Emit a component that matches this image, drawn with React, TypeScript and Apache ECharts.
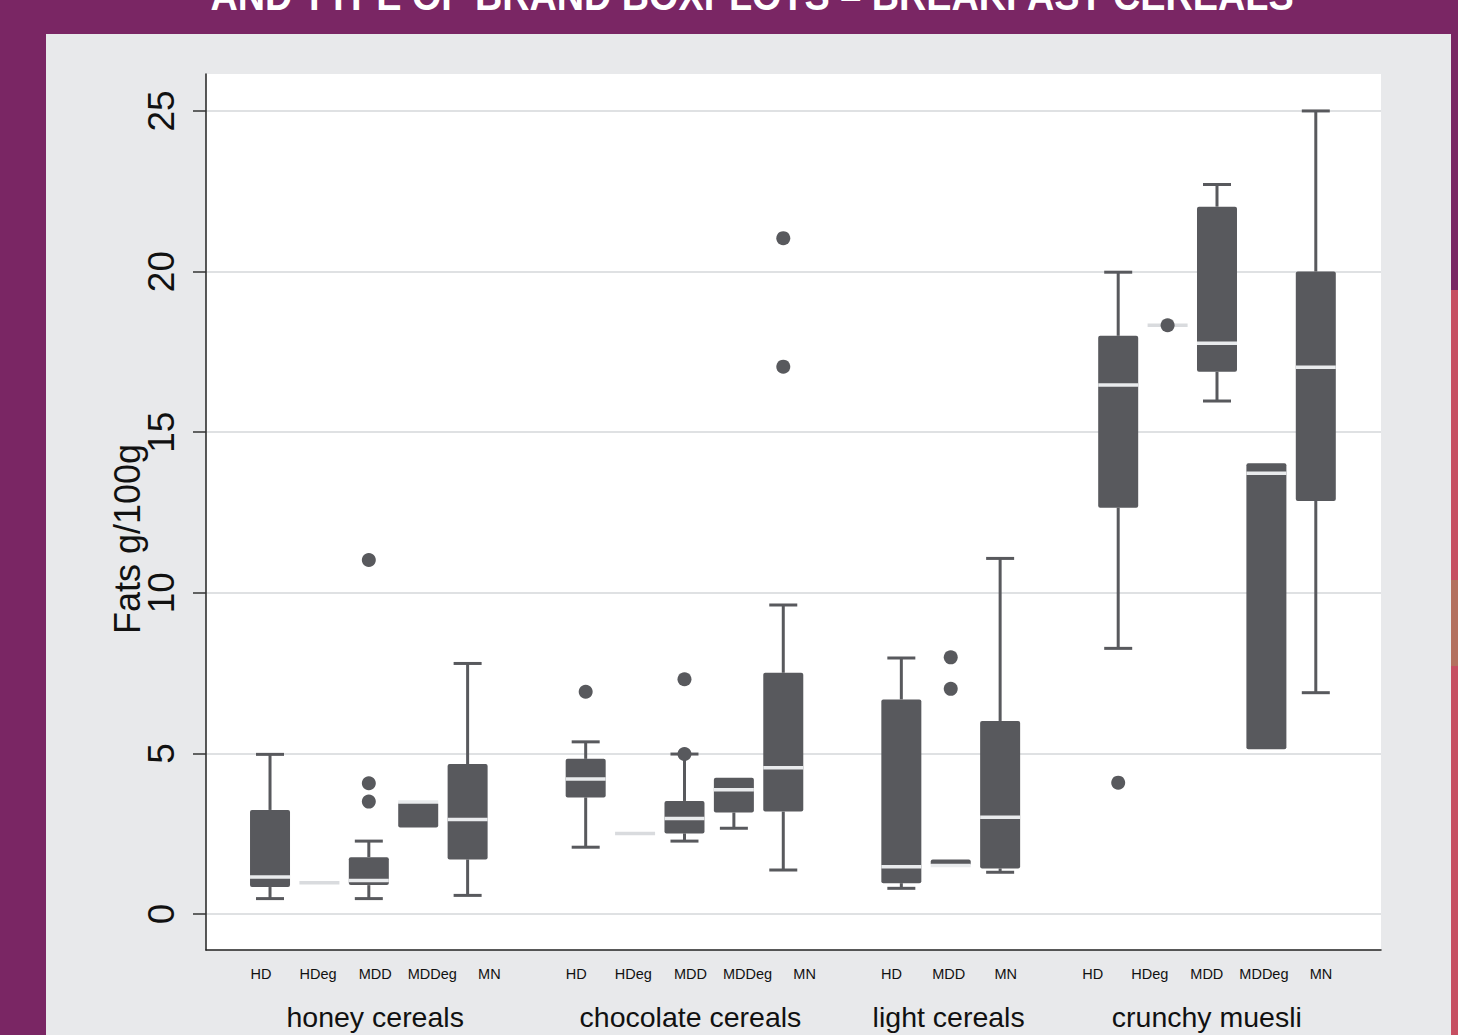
import React, { useEffect, useRef } from "react";
import * as echarts from "echarts";

// ---------- DATA ----------
const groupNames = ["honey cereals", "chocolate cereals", "light cereals", "crunchy muesli"];
const honeyBrands = ["HD", "HDeg", "MDD", "MDDeg", "MN"];
const chocolateBrands = ["HD", "HDeg", "MDD", "MDDeg", "MN"];
const lightBrands = ["HD", "MDD", "MN"];
const muesliBrands = ["HD", "HDeg", "MDD", "MDDeg", "MN"];

// box statistics: [lower whisker, q1, median, q3, upper whisker] (fats g/100g)
const honeyStats = [
  [0.48, 0.84, 1.15, 3.24, 4.97],
  [0.97, 0.97, 0.97, 0.97, 0.97],
  [0.48, 0.9, 1.04, 1.77, 2.27],
  [2.69, 2.69, 3.49, 3.49, 3.49],
  [0.58, 1.7, 2.94, 4.67, 7.8],
];
const chocolateStats = [
  [2.08, 3.63, 4.2, 4.83, 5.36],
  [2.51, 2.51, 2.51, 2.51, 2.51],
  [2.27, 2.51, 2.97, 3.52, 4.98],
  [2.67, 3.16, 3.87, 4.24, 4.24],
  [1.37, 3.19, 4.55, 7.51, 9.62],
];
const lightStats = [
  [0.8, 0.96, 1.47, 6.68, 7.97],
  [1.51, 1.51, 1.51, 1.7, 1.7],
  [1.3, 1.42, 3.01, 6.01, 11.07],
];
const muesliStats = [
  [8.27, 12.65, 16.47, 18.0, 19.98],
  [18.33, 18.33, 18.33, 18.33, 18.33],
  [15.97, 16.88, 17.77, 22.02, 22.71],
  [5.13, 5.13, 13.72, 14.03, 14.03],
  [6.89, 12.86, 17.02, 20.0, 25.0],
];

// outside values: [brand index within group, value]
const honeyOutliers = [[2, 11.02], [2, 4.07], [2, 3.5]];
const chocolateOutliers = [[0, 6.92], [2, 7.31], [2, 4.98], [4, 17.04], [4, 21.04]];
const lightOutliers = [[1, 7.99], [1, 7.01]];
const muesliOutliers = [[0, 4.09], [1, 18.33]];

const yTicks = [0, 5, 10, 15, 20, 25];
const yTitle = "Fats g/100g";
const pageTitle = "AND TYPE OF BRAND BOXPLOTS \u2013 BREAKFAST CEREALS";

// ---------- LAYOUT / STYLE ----------
const groupBrands = [honeyBrands, chocolateBrands, lightBrands, muesliBrands];
const groupStats = [honeyStats, chocolateStats, lightStats, muesliStats];
const groupOutliers = [honeyOutliers, chocolateOutliers, lightOutliers, muesliOutliers];

const BOX_GAP = 2.39; // gap between groups, in box slots
const LABEL_GAP = 1.523; // gap between groups, in label slots

function slotPositions(gap: number) {
  const out: number[][] = [];
  let start = 0;
  groupBrands.forEach((b) => {
    out.push(b.map((_, i) => start + i));
    start += b.length - 1 + gap;
  });
  return out;
}
const boxPos = slotPositions(BOX_GAP);
const labelPos = slotPositions(LABEL_GAP);
const labelFlat: number[] = [];
const labelNames: string[] = [];
labelPos.forEach((g, gi) => g.forEach((p, i) => { labelFlat.push(p); labelNames.push(groupBrands[gi][i]); }));
const groupCenters = labelPos.map((g) => (g[0] + g[g.length - 1]) / 2);

const BOX = "#58595d";
const MEDIAN = "#e9ebed";
const DEGEN = "#d9dbde";
const FONT = "'Liberation Sans', Arial, sans-serif";

const boxData: number[][] = [];
groupStats.forEach((g, gi) => g.forEach((s, i) => boxData.push([boxPos[gi][i], ...s])));
const outlierData: number[][] = [];
groupOutliers.forEach((g, gi) => g.forEach(([i, v]) => outlierData.push([boxPos[gi][i], v])));

function nameAt(list: number[], names: string[], v: number) {
  for (let i = 0; i < list.length; i++) if (Math.abs(list[i] - v) < 1e-6) return names[i];
  return "";
}

export default function App() {
  const ref = useRef<HTMLDivElement>(null);
  useEffect(() => {
    document.body.style.margin = "0";
    const chart = echarts.init(ref.current!, null, { renderer: "svg" });
    const BOX_HALF = 20;
    const CAP_HALF = 14;
    chart.setOption({
      animation: false,
      backgroundColor: "#7a2664",
      graphic: [
        { type: "rect", z: -100, shape: { x: 46, y: 34, width: 1405, height: 1010 }, style: { fill: "#e8e9eb" } },
        { type: "rect", z: -100, shape: { x: 1451, y: 290, width: 8, height: 750 }, style: { fill: "#c64f62" } },
        { type: "rect", z: -100, shape: { x: 1451, y: 580, width: 8, height: 86 }, style: { fill: "#b3705e" } },
        {
          type: "text", x: 752, y: -5, scaleX: 0.9,
          style: { text: pageTitle, fill: "#ffffff", font: `bold 42px ${FONT}`, textAlign: "center", textVerticalAlign: "middle" },
        },
        {
          type: "text", x: 127, y: 539, rotation: Math.PI / 2,
          style: { text: yTitle, fill: "#111", font: `36px ${FONT}`, textAlign: "center", textVerticalAlign: "middle" },
        },
      ],
      grid: { left: 206, right: 77, top: 74, bottom: 85, show: true, backgroundColor: "#ffffff", borderWidth: 0 },
      xAxis: [
        { type: "value", min: -1.296, max: 22.49, show: false },
        {
          type: "value", position: "bottom", min: -0.9636, max: 19.62,
          axisLine: { show: true, onZero: false, lineStyle: { color: "#222", width: 1.5 } },
          axisTick: { show: false }, splitLine: { show: false },
          axisLabel: {
            customValues: labelFlat, margin: 16, fontSize: 14.5, fontFamily: FONT, color: "#111",
            formatter: (v: number) => nameAt(labelFlat, labelNames, v),
          },
        },
        {
          type: "value", position: "bottom", min: -0.9636, max: 19.62,
          axisLine: { show: false }, axisTick: { show: false }, splitLine: { show: false },
          axisLabel: {
            customValues: groupCenters, margin: 52, fontSize: 28.5, fontFamily: FONT, color: "#111",
            formatter: (v: number) => nameAt(groupCenters, groupNames, v),
          },
        },
      ],
      yAxis: {
        type: "value", min: -1.12, max: 26.15,
        axisLine: { show: true, onZero: false, lineStyle: { color: "#222", width: 1.5 } },
        axisTick: { show: true, customValues: yTicks, length: 13, lineStyle: { color: "#333", width: 1.5 } },
        axisLabel: { customValues: yTicks, rotate: 90, margin: 26, fontSize: 37, fontFamily: FONT, color: "#111" },
        splitLine: { show: true, lineStyle: { color: "#dfe1e3", width: 2 } },
      },
      series: [
        {
          type: "custom",
          xAxisIndex: 0,
          yAxisIndex: 0,
          data: boxData,
          encode: { x: 0, y: [1, 2, 3, 4, 5] },
          renderItem: (params: any, api: any) => {
            const x = api.value(0);
            const mn = api.value(1), q1 = api.value(2), md = api.value(3), q3 = api.value(4), mx = api.value(5);
            const cx = api.coord([x, mn])[0];
            const y = (v: number) => api.coord([x, v])[1];
            const children: any[] = [];
            const ls = { stroke: BOX, lineWidth: 3 };
            if (mx > q3) {
              children.push({ type: "line", shape: { x1: cx, y1: y(q3), x2: cx, y2: y(mx) }, style: ls });
              children.push({ type: "line", shape: { x1: cx - CAP_HALF, y1: y(mx), x2: cx + CAP_HALF, y2: y(mx) }, style: ls });
            }
            if (mn < q1) {
              children.push({ type: "line", shape: { x1: cx, y1: y(q1), x2: cx, y2: y(mn) }, style: ls });
              children.push({ type: "line", shape: { x1: cx - CAP_HALF, y1: y(mn), x2: cx + CAP_HALF, y2: y(mn) }, style: ls });
            }
            if (q3 > q1) {
              children.push({
                type: "rect",
                shape: { x: cx - BOX_HALF, y: y(q3), width: BOX_HALF * 2, height: y(q1) - y(q3), r: 2 },
                style: { fill: BOX },
              });
            }
            children.push({
              type: "line",
              shape: { x1: cx - BOX_HALF, y1: y(md), x2: cx + BOX_HALF, y2: y(md) },
              style: { stroke: q3 > q1 ? MEDIAN : DEGEN, lineWidth: 3.5 },
            });
            return { type: "group", children };
          },
        },
        {
          type: "scatter",
          xAxisIndex: 0,
          yAxisIndex: 0,
          data: outlierData,
          symbolSize: 14,
          itemStyle: { color: BOX, opacity: 1 },
          z: 5,
        },
      ],
    });
    return () => chart.dispose();
  }, []);
  return <div ref={ref} style={{ width: 1458, height: 1035 }} />;
}
